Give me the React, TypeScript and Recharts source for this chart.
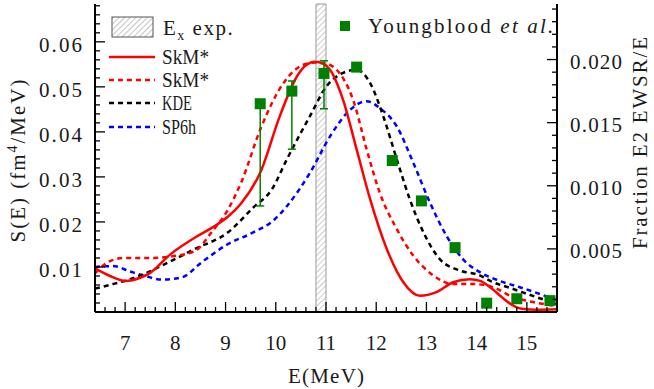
import React from "react";
import {
  ComposedChart,
  Line,
  Scatter,
  XAxis,
  YAxis,
  ReferenceArea,
  ErrorBar,
  Legend,
} from "recharts";

const FONT = '"Liberation Serif", "Times New Roman", "DejaVu Serif", "Noto Serif", Times, serif';
const TS: React.CSSProperties = { fontFamily: FONT };

// ---- theoretical strength functions S(E) [E (MeV), S (fm^4/MeV)] ----
const skmSolid: [number, number][] = [
  [6.4, 0.0097], [6.7, 0.008], [7.0, 0.0069], [7.3, 0.0076], [7.5, 0.0087],
  [7.9, 0.0128], [8.4, 0.0166], [8.8, 0.0192], [9.05, 0.0212], [9.3, 0.024],
  [9.7, 0.0312], [10.08, 0.0435], [10.42, 0.0523], [10.6, 0.0548], [10.78, 0.0556],
  [10.95, 0.0551], [11.08, 0.0538], [11.34, 0.0471], [11.61, 0.0361], [11.88, 0.025],
  [12.21, 0.014], [12.54, 0.0066], [12.87, 0.0036], [13.2, 0.0044], [13.53, 0.0066],
  [13.87, 0.0073], [14.07, 0.0069], [14.3, 0.0052], [14.5, 0.0033], [14.7, 0.0016],
  [14.9, 0.0007], [15.2, 0.0005], [15.6, 0.0006],
];

const skmDashed: [number, number][] = [
  [6.4, 0.0086], [6.7, 0.0113], [7.0, 0.012], [7.5, 0.012], [7.9, 0.0123],
  [8.4, 0.0136], [8.72, 0.0177], [9.05, 0.0228], [9.32, 0.029], [9.69, 0.0405],
  [10.15, 0.0508], [10.55, 0.0549], [10.8, 0.0554], [10.95, 0.0553], [11.21, 0.0538],
  [11.54, 0.0471], [11.81, 0.0361], [12.07, 0.0265], [12.41, 0.0184], [12.74, 0.0125],
  [13.14, 0.0081], [13.53, 0.0062], [13.93, 0.0062], [14.33, 0.0055], [14.73, 0.0033],
  [15.13, 0.0022], [15.6, 0.0013],
];

const kde: [number, number][] = [
  [6.4, 0.0052], [6.76, 0.0062], [7.1, 0.0073], [7.45, 0.0088], [7.73, 0.0103],
  [8.39, 0.014], [9.05, 0.0177], [9.55, 0.0232], [9.92, 0.0272], [10.22, 0.0339],
  [10.68, 0.0435], [11.01, 0.0501], [11.34, 0.0531], [11.61, 0.0538], [11.88, 0.0508],
  [12.14, 0.0435], [12.41, 0.0339], [12.67, 0.025], [12.94, 0.0177], [13.27, 0.0117],
  [13.67, 0.0092], [14.07, 0.0081], [14.27, 0.0069], [14.73, 0.0051], [15.19, 0.0033],
  [15.6, 0.0018],
];

const sp6h: [number, number][] = [
  [6.4, 0.01], [6.76, 0.0102], [7.1, 0.009], [7.4, 0.008], [7.73, 0.0072],
  [8.13, 0.0077], [8.52, 0.011], [9.05, 0.0151], [9.52, 0.0175], [9.98, 0.0206],
  [10.22, 0.0235], [10.68, 0.0309], [11.08, 0.039], [11.48, 0.0449], [11.81, 0.0468],
  [12.07, 0.0453], [12.41, 0.0412], [12.74, 0.0331], [13.07, 0.0243], [13.4, 0.0169],
  [13.73, 0.0117], [14.07, 0.0088], [14.46, 0.0069], [14.86, 0.0055], [15.26, 0.004],
  [15.6, 0.0026],
];

// ---- experiment (Youngblood et al.), fraction E2 EWSR/E ----
const expE = [9.69, 10.32, 10.96, 11.61, 12.32, 12.9, 13.57, 14.2, 14.8, 15.46];
const expFrac = [0.0165, 0.0175, 0.0189, 0.0194, 0.012, 0.0088, 0.0051, 0.0007, 0.00105, 0.0009];
const expErrLow = [0.0081, 0.0046, 0.0028, 0, 0, 0, 0, 0, 0, 0];
const expErrHigh = [0, 0.0008, 0.001, 0, 0, 0, 0, 0, 0, 0];

// ---- experimental excitation energy band ----
const exBand = [10.8, 11.0];

// ---- axes ----
const xDomain = [6.4, 15.6];
const leftDomain = [0, 0.0684];
const rightDomain = [0, 0.0244];
const xMajor = [7, 8, 9, 10, 11, 12, 13, 14, 15];
const leftMajor = [0.01, 0.02, 0.03, 0.04, 0.05, 0.06];
const rightMajor = [0.005, 0.01, 0.015, 0.02];

const stepTicks = (start: number, end: number, step: number) => {
  const out: number[] = [];
  for (let i = 0; start + i * step <= end + 1e-9; i++) out.push(+(start + i * step).toFixed(6));
  return out;
};
const xTicks = stepTicks(6.6, 15.4, 0.2);
const leftTicks = stepTicks(0.002, 0.068, 0.002);
const rightTicks = stepTicks(0.001, 0.024, 0.001);
const isMajor = (v: number, majors: number[]) => majors.some((m) => Math.abs(m - v) < 1e-7);

const toPts = (arr: [number, number][]) => arr.map(([e, s]) => ({ e, s }));
const expData = expE.map((e, i) => ({ e, f: expFrac[i], err: [expErrLow[i], expErrHigh[i]] }));

const GREEN = "#008000";
const TXT = "#1a1a1a";
const MAJ = 10;
const MIN = 5;

const BottomTick = (p: any) => {
  const v = p.payload.value;
  const major = isMajor(v, xMajor);
  return (
    <g>
      <line x1={p.x} y1={p.y} x2={p.x} y2={p.y - (major ? MAJ : MIN)} stroke="#000" strokeWidth={1.3} />
      {major && (
        <text x={p.x} y={p.y + 38} textAnchor="middle" style={TS} fontSize={21} fill={TXT}>
          {String(v)}
        </text>
      )}
    </g>
  );
};

const TopTick = (p: any) => {
  const v = p.payload.value;
  const major = isMajor(v, xMajor);
  return <line x1={p.x} y1={p.y} x2={p.x} y2={p.y + (major ? MAJ : MIN)} stroke="#000" strokeWidth={1.3} />;
};

const LeftTick = (p: any) => {
  const v = p.payload.value;
  const major = isMajor(v, leftMajor);
  return (
    <g>
      <line x1={p.x} y1={p.y} x2={p.x + (major ? MAJ : MIN)} y2={p.y} stroke="#000" strokeWidth={1.3} />
      {major && (
        <text x={p.x - 13} y={p.y + 10} textAnchor="end" style={TS} fontSize={21} fill={TXT}
          textLength={43} lengthAdjust="spacing">
          {v.toFixed(2)}
        </text>
      )}
    </g>
  );
};

const RightTick = (p: any) => {
  const v = p.payload.value;
  const major = isMajor(v, rightMajor);
  return (
    <g>
      <line x1={p.x} y1={p.y} x2={p.x - (major ? MAJ : MIN)} y2={p.y} stroke="#000" strokeWidth={1.3} />
      {major && (
        <text x={p.x + 13} y={p.y + 9} textAnchor="start" style={TS} fontSize={21} fill={TXT}
          textLength={52} lengthAdjust="spacing">
          {v.toFixed(3)}
        </text>
      )}
    </g>
  );
};

const LeftTitle = (props: any) => {
  const vb = props.viewBox || { x: 0, y: 4, width: 95, height: 308 };
  const cx = vb.x + 18;
  const cy = vb.y + vb.height / 2 + 2;
  return (
    <text x={cx} y={cy} transform={`rotate(-90 ${cx} ${cy})`} textAnchor="middle" dy={7}
      style={TS} fontSize={21} fill={TXT} letterSpacing={2}>
      S(E) (fm<tspan dy={-8} fontSize={14}>4</tspan><tspan dy={8}>/MeV)</tspan>
    </text>
  );
};

const RightTitle = (props: any) => {
  const vb = props.viewBox || { x: 557, y: 4, width: 97, height: 308 };
  const cx = vb.x + 84;
  const cy = vb.y + vb.height / 2 - 15;
  return (
    <text x={cx} y={cy} transform={`rotate(-90 ${cx} ${cy})`} textAnchor="middle" dy={6}
      style={TS} fontSize={21} fill={TXT} textLength={212} lengthAdjust="spacing">
      Fraction E2 EWSR/E
    </text>
  );
};

const BottomTitle = (props: any) => {
  const vb = props.viewBox || { x: 95, y: 312, width: 462, height: 77 };
  const cx = vb.x + vb.width / 2;
  return (
    <text x={cx} y={vb.y + 71} textAnchor="middle" style={TS} fontSize={21} fill={TXT}
      textLength={76} lengthAdjust="spacing">
      E(MeV)
    </text>
  );
};

const Square = (p: any) => (
  <rect x={p.cx - 5.5} y={p.cy - 5.5} width={11} height={11} fill={GREEN} />
);

const LegendContent = () => (
  <svg width={654} height={150} style={{ display: "block", overflow: "visible" }}>
    <defs>
      <pattern id="hatchLegend" patternUnits="userSpaceOnUse" width={4} height={4} patternTransform="rotate(45)">
        <line x1={0} y1={0} x2={0} y2={4} stroke="#8a8a8a" strokeWidth={1} />
      </pattern>
    </defs>
    <rect x={112} y={17} width={41} height={20} fill="url(#hatchLegend)" stroke="#555" strokeWidth={1} />
    <text x={163} y={35} style={TS} fontSize={21} fill={TXT} letterSpacing={1.5}>
      E<tspan dy={5} fontSize={14}>x</tspan><tspan dy={-5}> exp.</tspan>
    </text>

    <line x1={109} y1={57} x2={155} y2={57} stroke="#ff0000" strokeWidth={2.5} />
    <text x={162} y={64} style={TS} fontSize={21} fill={TXT} textLength={47} lengthAdjust="spacingAndGlyphs">SkM*</text>

    <line x1={109} y1={80} x2={155} y2={80} stroke="#ff0000" strokeWidth={2.5} strokeDasharray="5 4" />
    <text x={162} y={87} style={TS} fontSize={21} fill={TXT} textLength={47} lengthAdjust="spacingAndGlyphs">SkM*</text>

    <line x1={109} y1={103} x2={155} y2={103} stroke="#000" strokeWidth={2.5} strokeDasharray="5 4" />
    <text x={162} y={110} style={TS} fontSize={21} fill={TXT} textLength={30} lengthAdjust="spacingAndGlyphs">KDE</text>

    <line x1={109} y1={127} x2={155} y2={127} stroke="#0000ff" strokeWidth={2.5} strokeDasharray="5 4" />
    <text x={162} y={134} style={TS} fontSize={21} fill={TXT} textLength={34} lengthAdjust="spacingAndGlyphs">SP6h</text>

    <rect x={340} y={21} width={10} height={10} fill={GREEN} />
    <text x={368} y={33} style={TS} fontSize={21} fill={TXT} letterSpacing={2.2}>
      Youngblood <tspan fontStyle="italic">et al.</tspan>
    </text>
  </svg>
);

export default function App() {
  return (
    <div style={{ position: "absolute", left: 0, top: 0, width: 654, height: 389, background: "#fff", fontFamily: FONT }}>
      <ComposedChart
        width={654}
        height={389}
        margin={{ top: 4, right: 0, bottom: 0, left: 0 }}
        style={{ fontFamily: FONT }}
      >
        <defs>
          <pattern id="hatch" patternUnits="userSpaceOnUse" width={4} height={4} patternTransform="rotate(45)">
            <line x1={0} y1={0} x2={0} y2={4} stroke="#9a9a9a" strokeWidth={1} />
          </pattern>
        </defs>
        <XAxis
          xAxisId="bottom"
          type="number"
          dataKey="e"
          domain={xDomain}
          allowDataOverflow
          ticks={xTicks}
          interval={0}
          tick={BottomTick}
          tickLine={false}
          tickSize={0}
          tickMargin={0}
          height={77}
          axisLine={{ stroke: "#000", strokeWidth: 2 }}
          label={BottomTitle}
        />
        <XAxis
          xAxisId="top"
          orientation="top"
          type="number"
          dataKey="e"
          domain={xDomain}
          allowDataOverflow
          ticks={xTicks}
          interval={0}
          tick={TopTick}
          tickLine={false}
          tickSize={0}
          tickMargin={0}
          height={0}
          axisLine={{ stroke: "#000", strokeWidth: 2 }}
        />
        <YAxis
          yAxisId="left"
          type="number"
          domain={leftDomain}
          allowDataOverflow
          ticks={leftTicks}
          interval={0}
          tick={LeftTick}
          tickLine={false}
          tickSize={0}
          tickMargin={0}
          width={95}
          axisLine={{ stroke: "#000", strokeWidth: 2 }}
          label={LeftTitle}
        />
        <YAxis
          yAxisId="right"
          orientation="right"
          type="number"
          domain={rightDomain}
          allowDataOverflow
          ticks={rightTicks}
          interval={0}
          tick={RightTick}
          tickLine={false}
          tickSize={0}
          tickMargin={0}
          width={97}
          axisLine={{ stroke: "#000", strokeWidth: 2 }}
          label={RightTitle}
        />
        <ReferenceArea
          xAxisId="bottom"
          yAxisId="left"
          x1={exBand[0]}
          x2={exBand[1]}
          fill="url(#hatch)"
          fillOpacity={1}
          stroke="#9a9a9a"
          strokeWidth={1}
          ifOverflow="visible"
        />
        <Line xAxisId="bottom" yAxisId="left" data={toPts(sp6h)} dataKey="s" type="monotone" dot={false}
          stroke="#0000ff" strokeWidth={2.5} strokeDasharray="5 4" isAnimationActive={false} />
        <Line xAxisId="bottom" yAxisId="left" data={toPts(kde)} dataKey="s" type="monotone" dot={false}
          stroke="#000" strokeWidth={2.5} strokeDasharray="5 4" isAnimationActive={false} />
        <Line xAxisId="bottom" yAxisId="left" data={toPts(skmDashed)} dataKey="s" type="monotone" dot={false}
          stroke="#ff0000" strokeWidth={2.5} strokeDasharray="5 4" isAnimationActive={false} />
        <Line xAxisId="bottom" yAxisId="left" data={toPts(skmSolid)} dataKey="s" type="monotone" dot={false}
          stroke="#ff0000" strokeWidth={2.5} isAnimationActive={false} />
        <Scatter xAxisId="bottom" yAxisId="right" data={expData} dataKey="f" shape={Square} isAnimationActive={false}>
          <ErrorBar dataKey="err" direction="y" width={4} stroke={GREEN} strokeWidth={1.5} />
        </Scatter>
        <Legend
          layout="vertical"
          align="center"
          verticalAlign="middle"
          content={LegendContent}
          wrapperStyle={{ position: "absolute", left: 0, top: 0, width: 654, height: 150, pointerEvents: "none" }}
        />
      </ComposedChart>
    </div>
  );
}
